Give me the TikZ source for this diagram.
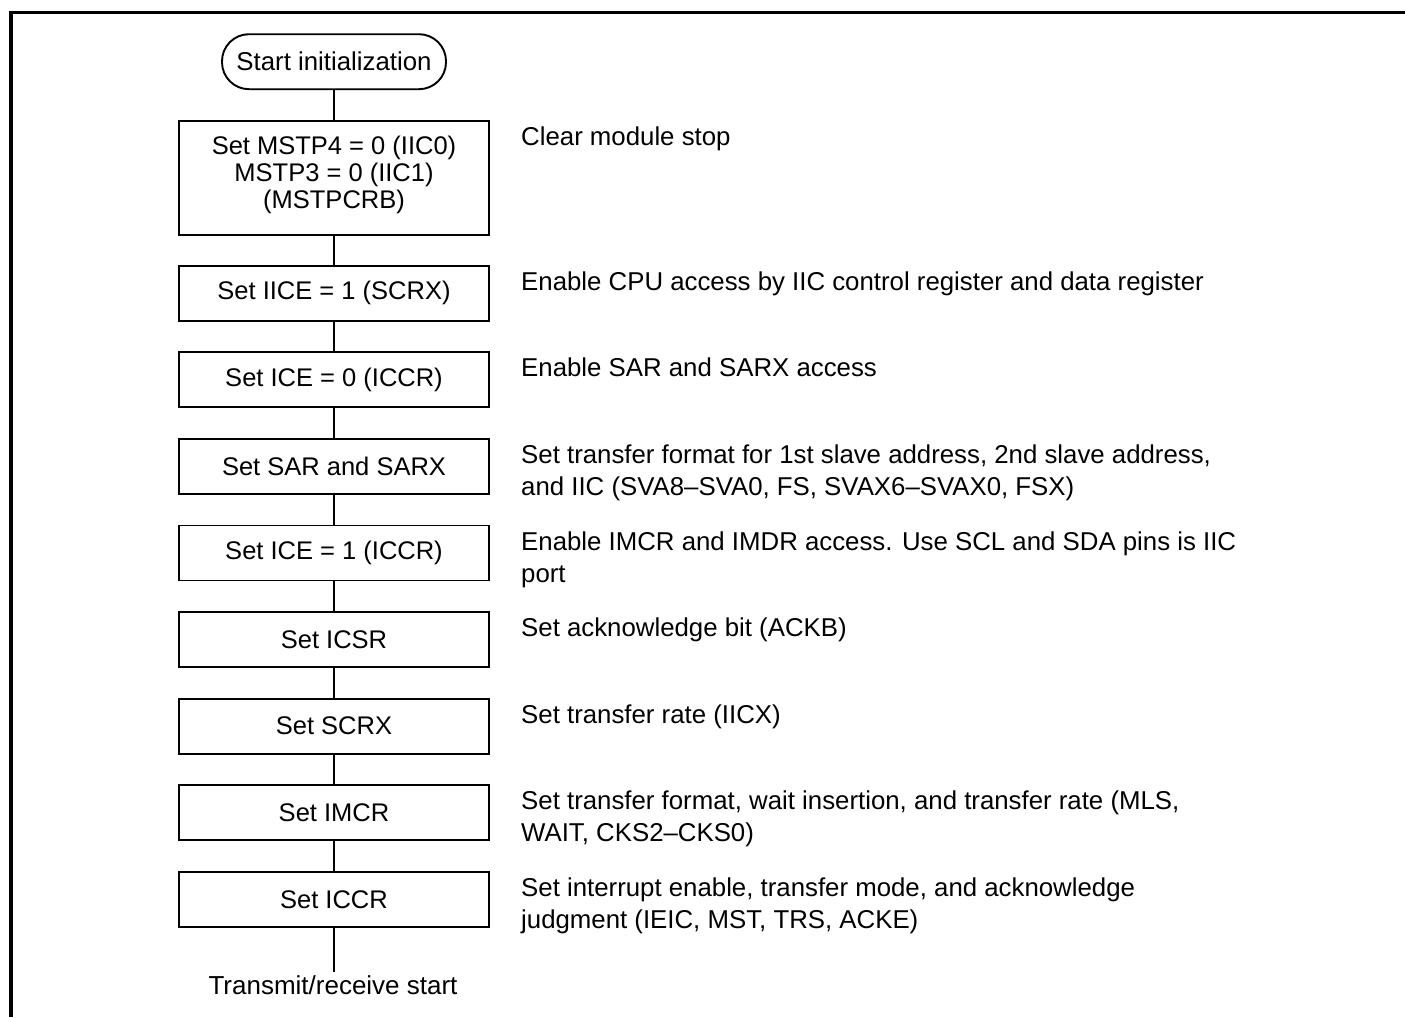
\documentclass[tikz,border=0pt]{standalone}
\usepackage{fontspec}
\setmainfont{Liberation Sans}
\begin{document}
\begin{tikzpicture}[x=1pt,y=-1pt,
  stepbox/.style={draw, line width=1.9pt, minimum width=310pt, minimum height=55pt, inner sep=0pt, align=center, font=\fontsize{25.5}{27}\selectfont},
  term/.style={draw, line width=1.9pt, rounded corners=27pt, minimum width=224pt, minimum height=55pt, inner sep=0pt, font=\fontsize{25.8}{27}\selectfont},
  conn/.style={line width=1.5pt},
  desc/.style={anchor=base west, inner sep=0pt, font=\fontsize{25.8}{32}\selectfont},
  endtext/.style={anchor=base, inner sep=3pt, font=\fontsize{26}{27}\selectfont},
  frame/.style={line width=3.2pt}]
\useasboundingbox (0,0) rectangle (1405,1017);
\draw[frame] (11,1017) -- (11,12.5) -- (1405,12.5);

\node[term] (start) at (334,61.7) {Start initialization};
\node[stepbox, minimum height=114pt] (b1) at (334,178) {Set MSTP4 = 0 (IIC0)\\MSTP3 = 0 (IIC1)\\(MSTPCRB)\\[-16pt]};
\node[stepbox] (b2) at (334,293.2) {Set IICE = 1 (SCRX)};
\node[stepbox] (b3) at (334,379.8) {Set ICE = 0 (ICCR)};
\node[stepbox] (b4) at (334,466.4) {Set SAR and SARX};
\node[stepbox] (b5) at (334,553.0) {Set ICE = 1 (ICCR)};
\node[stepbox] (b6) at (334,639.6) {Set ICSR};
\node[stepbox] (b7) at (334,726.2) {Set SCRX};
\node[stepbox] (b8) at (334,812.8) {Set IMCR};
\node[stepbox] (b9) at (334,899.4) {Set ICCR};
\node[endtext] (end) at (333,994) {Transmit/receive start};

\draw[conn] (start) -- (b1);
\draw[conn] (b1) -- (b2);
\draw[conn] (b2) -- (b3);
\draw[conn] (b3) -- (b4);
\draw[conn] (b4) -- (b5);
\draw[conn] (b5) -- (b6);
\draw[conn] (b6) -- (b7);
\draw[conn] (b7) -- (b8);
\draw[conn] (b8) -- (b9);
\draw[conn] (b9.south) -- (b9.south |- end.north);

\node[desc] (d1) at (521,145.5) {\parbox[t]{840pt}{Clear module stop}};
\node[desc] (d2) at (521,290.2) {\parbox[t]{840pt}{Enable CPU access by IIC control register and data register}};
\node[desc] (d3) at (521,376.8) {\parbox[t]{840pt}{Enable SAR and SARX access}};
\node[desc] (d4) at (521,463.4) {\parbox[t]{840pt}{Set transfer format for 1st slave address, 2nd slave address,\\and IIC (SVA8–SVA0, FS, SVAX6–SVAX0, FSX)}};
\node[desc] (d5) at (521,550.0) {\parbox[t]{840pt}{Enable IMCR and IMDR access. Use SCL and SDA pins is IIC\\port}};
\node[desc] (d6) at (521,636.6) {\parbox[t]{840pt}{Set acknowledge bit (ACKB)}};
\node[desc] (d7) at (521,723.2) {\parbox[t]{840pt}{Set transfer rate (IICX)}};
\node[desc] (d8) at (521,809.8) {\parbox[t]{840pt}{Set transfer format, wait insertion, and transfer rate (MLS,\\WAIT, CKS2–CKS0)}};
\node[desc] (d9) at (521,896.4) {\parbox[t]{840pt}{Set interrupt enable, transfer mode, and acknowledge\\judgment (IEIC, MST, TRS, ACKE)}};
\end{tikzpicture}
\end{document}
